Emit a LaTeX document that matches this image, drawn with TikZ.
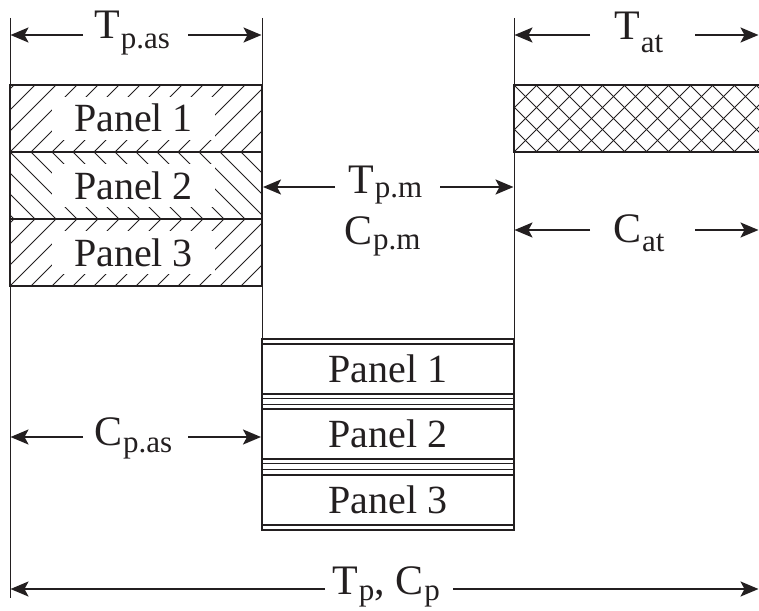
\documentclass[tikz,border=0pt]{standalone}
\usepackage{fontspec}
\setmainfont{Liberation Serif}
\usetikzlibrary{arrows.meta}
\definecolor{ink}{RGB}{35,31,32}
\newcommand{\dimlab}[3]{#1\kern1pt\raisebox{-#3pt}{\fontsize{31}{31}\selectfont #2}}
\begin{document}
\begin{tikzpicture}[x=1pt,y=-1pt,
  ink/.style={draw=ink},
  ext/.style={draw=ink,line width=1pt},
  arr/.style={draw=ink,line width=2pt,-{Stealth[length=18pt,width=15pt,inset=4pt]}},
  hatch/.style={draw=ink,line width=0.9pt},
  boxline/.style={draw=ink,line width=2.8pt},
  thinline/.style={draw=ink,line width=1.3pt},
  lab/.style={inner sep=0pt,text=ink,font=\fontsize{42}{42}\selectfont},
  paneltxt/.style={inner sep=0pt,text=ink,font=\fontsize{40}{40}\selectfont},
  whitebox/.style={paneltxt,fill=white,minimum width=163pt,minimum height=43pt}]
\path[use as bounding box] (0,0) rectangle (759,610);

% extension lines
\coordinate (e0t) at (10,18);  \coordinate (e0b) at (10,598);
\coordinate (e1t) at (262,18); \coordinate (e1b) at (262,339);
\coordinate (e2t) at (514,18); \coordinate (e2b) at (514,339);
\draw[ext] (e0t) -- (e0b);
\draw[ext] (e1t) -- (e1b);
\draw[ext] (e2t) -- (e2b);

% ---- top-left hatched stack
\begin{scope}
  \clip (10,85) rectangle (262,152);
  \foreach \i in {-5,...,14} \draw[hatch] (10+\i*21,152) -- ++(67,-67);
\end{scope}
\begin{scope}
  \clip (10,152) rectangle (262,219);
  \foreach \i in {-5,...,14} \draw[hatch] (10+\i*21,152) -- ++(67,67);
\end{scope}
\begin{scope}
  \clip (10,219) rectangle (262,286);
  \foreach \i in {-5,...,14} \draw[hatch] (10+\i*21,286) -- ++(67,-67);
\end{scope}
\node[whitebox] (tl1) at (133.5,118) {Panel 1};
\node[whitebox] (tl2) at (133.5,185.5) {Panel 2};
\node[whitebox] (tl3) at (133.5,252.5) {Panel 3};
\draw[boxline] (10,85) rectangle (262,286);
\draw[boxline] (10,152) -- (262,152);
\draw[boxline] (10,219) -- (262,219);

% ---- top-right cross-hatched layer
\begin{scope}
  \clip (514,85) rectangle (762,152);
  \foreach \i in {-4,...,12} {
    \draw[hatch] (514+\i*22,152) -- ++(67,-67);
    \draw[hatch] (514+\i*22,85) -- ++(67,67);
  }
\end{scope}
\draw[boxline] (762,85) -- (514,85) -- (514,152) -- (762,152);

% ---- bottom stack
\draw[draw=ink,line width=2pt] (262,339) rectangle (514,530);
\foreach \yy in {339,344,394,409,459,475,525,530}
  \draw[boxline,line width=2.4pt] (262,\yy) -- (514,\yy);
\foreach \yy in {398.5,404.5,463.5,469.5}
  \draw[thinline] (262,\yy) -- (514,\yy);
\node[paneltxt] (bp1) at (388,369) {Panel 1};
\node[paneltxt] (bp2) at (388,434) {Panel 2};
\node[paneltxt] (bp3) at (388,500) {Panel 3};

% ---- dimension labels
\node[lab,anchor=base west] (ltpas) at (94,38)   {\dimlab{T}{p.as}{10}};
\node[lab,anchor=base west] (ltat)  at (614,40)  {\dimlab{T}{at}{13}};
\node[lab,anchor=base west] (ltpm)  at (348,193) {\dimlab{T}{p.m}{4}};
\node[lab,anchor=base west] (lcpm)  at (344,244) {\dimlab{C}{p.m}{5}};
\node[lab,anchor=base west] (lcat)  at (613,242) {\dimlab{C}{at}{9}};
\node[lab,anchor=base west] (lcpas) at (94,445)  {\dimlab{C}{p.as}{7}};
\node[lab,anchor=base west] (ltcp)  at (332,594) {\dimlab{T}{p}{6}, \dimlab{C}{p}{6}};

% ---- dimension arrows
\coordinate (a1a) at (83,35);   \coordinate (a1b) at (10.5,35);
\coordinate (a1c) at (188,35);  \coordinate (a1d) at (261.5,35);
\draw[arr] (a1a) -- (a1b);  \draw[arr] (a1c) -- (a1d);
\coordinate (a2a) at (590,35);  \coordinate (a2b) at (514.5,35);
\coordinate (a2c) at (695,35);  \coordinate (a2d) at (758.5,35);
\draw[arr] (a2a) -- (a2b);  \draw[arr] (a2c) -- (a2d);
\coordinate (a3a) at (335,187); \coordinate (a3b) at (263,187);
\coordinate (a3c) at (440,187); \coordinate (a3d) at (513.5,187);
\draw[arr] (a3a) -- (a3b);  \draw[arr] (a3c) -- (a3d);
\coordinate (a4a) at (590,230); \coordinate (a4b) at (514.5,230);
\coordinate (a4c) at (695,230); \coordinate (a4d) at (758.5,230);
\draw[arr] (a4a) -- (a4b);  \draw[arr] (a4c) -- (a4d);
\coordinate (a5a) at (83,437);  \coordinate (a5b) at (10.5,437);
\coordinate (a5c) at (188,437); \coordinate (a5d) at (261,437);
\draw[arr] (a5a) -- (a5b);  \draw[arr] (a5c) -- (a5d);
\coordinate (a6a) at (325,589); \coordinate (a6b) at (10.5,589);
\coordinate (a6c) at (453,589); \coordinate (a6d) at (758.5,589);
\draw[arr] (a6a) -- (a6b);  \draw[arr] (a6c) -- (a6d);
\end{tikzpicture}
\end{document}
